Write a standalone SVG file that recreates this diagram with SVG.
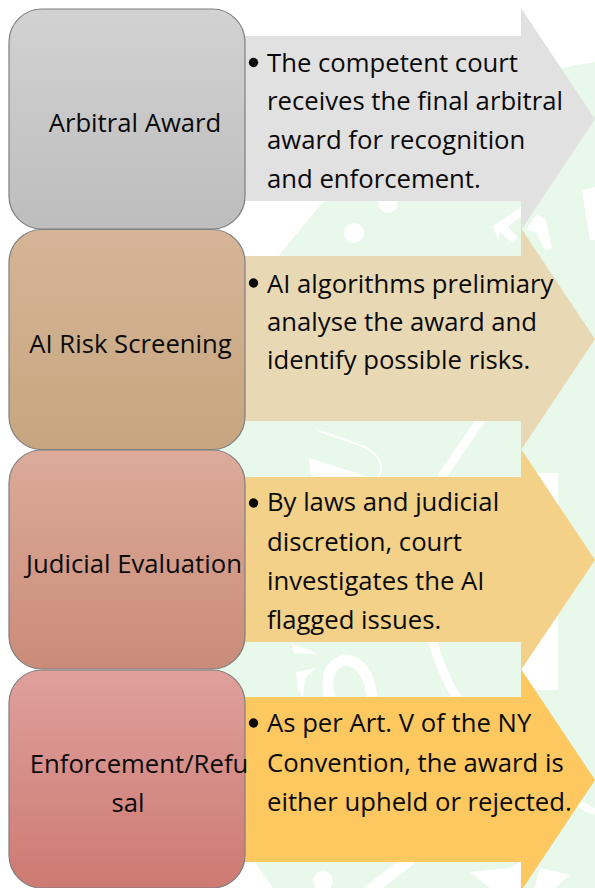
<svg xmlns="http://www.w3.org/2000/svg" width="595" height="888" viewBox="0 0 595 888">
<style>
text{font-family:"Open Sans","Noto Sans","Liberation Sans",sans-serif;font-size:25.7px;fill:#0a0a0a}
.m{text-anchor:middle}
.box{stroke:#7f7f7f;stroke-width:1.2}
.wm{fill:#fff;stroke:none}
.ring{fill:none;stroke:#fff}
</style>
<defs>
<linearGradient id="g1" x1="0" y1="0" x2="0" y2="1"><stop offset="0" stop-color="#d2d2d2"/><stop offset="1" stop-color="#bdbdbd"/></linearGradient>
<linearGradient id="g2" x1="0" y1="0" x2="0" y2="1"><stop offset="0" stop-color="#d6b598"/><stop offset="1" stop-color="#c6a67f"/></linearGradient>
<linearGradient id="g3" x1="0" y1="0" x2="0" y2="1"><stop offset="0" stop-color="#dcab9a"/><stop offset="1" stop-color="#ca8c78"/></linearGradient>
<linearGradient id="g4" x1="0" y1="0" x2="0" y2="1"><stop offset="0" stop-color="#dfa09c"/><stop offset="1" stop-color="#cd7a72"/></linearGradient>
</defs>
<rect width="595" height="888" fill="#fff"/>
<g id="watermark">
<path d="M595 62Q440 85 323 202L250 290Q190 400 190 600Q200 760 255 862L273 888H595Z" fill="#e8f8ea"/>
<circle class="wm" cx="388" cy="203" r="10"/>
<circle class="wm" cx="354" cy="233" r="10"/>
<circle class="wm" cx="323" cy="881" r="10"/>
<path class="ring" stroke-width="9" d="M492 404L480 421L443 475Q420 540 433 642Q440 670 458 700"/>
<path class="ring" stroke-width="12" d="M412 858L368 892"/>
<path class="ring" stroke-width="7" d="M560 790Q575 803 595 812"/>
<path class="wm" d="M522 473H558V690H522Z"/>
<path class="wm" d="M493 226L524 205L528 212L508 226L518 238L512 243L500 232L498 240Z"/>
<path class="wm" d="M526 230L537 214L546 220L552 248L545 250L536 232Z"/>
<path class="wm" d="M582 190L595 187V240H590Z"/>
<path class="wm" d="M310 475L309 458L378 480L376 500L360 490Z"/>
<path class="ring" stroke-width="2" d="M317 430L365 447Q388 460 378 478"/>
<path class="ring" stroke-width="11" d="M330 700Q322 665 345 660Q368 662 372 697"/>
<path class="wm" d="M292 644L315 652V654L294 653Z"/>
<path class="wm" d="M296 672L316 668L305 678L303 697L298 690Z"/>
<path class="wm" d="M470 872L510 868L520 862H522V888H490Z"/>
<path class="wm" d="M540 868L570 875L555 888H535Z"/>
</g>
<g id="connectors"></g>
<g id="arrow-1">
<path d="M245 36H521V8L595 119L521 230V201H245Z" fill="#e0e0e0" fill-opacity=".97"/>
<circle cx="253.500" cy="62.500" r="4.700" fill="#0a0a0a"/>
<text x="267" y="72">The competent court</text>
<text x="267" y="110">receives the final arbitral</text>
<text x="267" y="149">award for recognition</text>
<text x="267" y="188">and enforcement.</text>
</g>
<g id="arrow-2">
<path d="M245 256H521V228L595 339L521 450V421H245Z" fill="#e9d8b4"/>
<circle cx="253.500" cy="283" r="4.700" fill="#0a0a0a"/>
<text x="267" y="293">AI algorithms prelimiary</text>
<text x="267" y="331">analyse the award and</text>
<text x="267" y="369">identify possible risks.</text>
</g>
<g id="arrow-3">
<path d="M245 477H521V449L595 560L521 670V642H245Z" fill="#f3d189"/>
<circle cx="253.500" cy="503" r="4.700" fill="#0a0a0a"/>
<text x="267" y="511">By laws and judicial</text>
<text x="267" y="551">discretion, court</text>
<text x="267" y="590">investigates the AI</text>
<text x="267" y="629">flagged issues.</text>
</g>
<g id="arrow-4">
<path d="M245 697H521V669L595 780L521 891V862H245Z" fill="#fec860"/>
<circle cx="253.500" cy="723" r="4.700" fill="#0a0a0a"/>
<text x="267" y="732">As per Art. V of the NY</text>
<text x="267" y="772">Convention, the award is</text>
<text x="267" y="811">either upheld or rejected.</text>
</g>
<g id="node-1">
<rect class="box" x="9" y="9" width="236" height="220" rx="33" fill="url(#g1)"/>
<text class="m" x="135" y="132">Arbitral Award</text>
</g>
<g id="node-2">
<rect class="box" x="9" y="229.500" width="236" height="220" rx="33" fill="url(#g2)"/>
<text class="m" x="130.500" y="353">AI Risk Screening</text>
</g>
<g id="node-3">
<rect class="box" x="9" y="450" width="236" height="219" rx="33" fill="url(#g3)"/>
<text class="m" x="134" y="573">Judicial Evaluation</text>
</g>
<g id="node-4">
<rect class="box" x="9" y="670" width="236" height="218" rx="33" fill="url(#g4)"/>
<text class="m" x="139" y="773">Enforcement/Refu</text>
<text class="m" x="128" y="812">sal</text>
</g>
</svg>
